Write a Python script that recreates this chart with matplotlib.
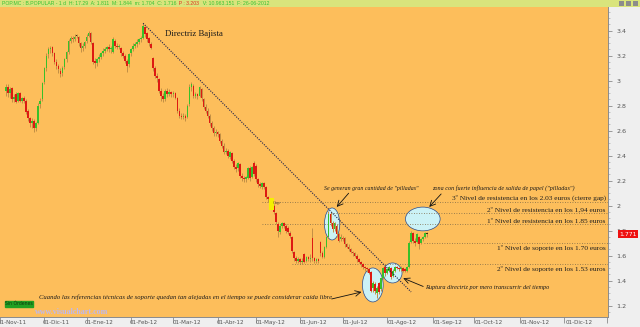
import numpy as np
import pandas as pd
import matplotlib
matplotlib.use("Agg")
from matplotlib import pyplot as plt
from matplotlib.patches import Ellipse, Rectangle
import matplotlib.transforms as mtransforms

# trading calendar (past holidays of the Madrid exchange only)
holidays = ["2011-12-26", "2012-04-06", "2012-04-09", "2012-05-01"]
first_candle = "2011-11-04"
meses = ["Ene", "Feb", "Mar", "Abr", "May", "Jun", "Jul", "Ago", "Sep", "Oct", "Nov", "Dic"]

# daily candles B.POPULAR
opens = [2.92, 2.95, 2.90, 2.94, 2.85, 2.89, 2.84, 2.90, 2.84, 2.86,
         2.84, 2.76, 2.70, 2.66, 2.68, 2.62, 2.66, 2.81, 2.85, 2.99,
         3.10, 3.21, 3.25, 3.27, 3.22, 3.15, 3.12, 3.08, 3.06, 3.11,
         3.17, 3.23, 3.32, 3.34, 3.33, 3.36, 3.35, 3.30, 3.26, 3.28,
         3.32, 3.36, 3.38, 3.30, 3.16, 3.14, 3.17, 3.19, 3.22, 3.24,
         3.25, 3.27, 3.25, 3.23, 3.32, 3.28, 3.27, 3.26, 3.22, 3.20,
         3.16, 3.13, 3.22, 3.25, 3.28, 3.29, 3.31, 3.33, 3.34, 3.43,
         3.38, 3.34, 3.29, 3.18, 3.10, 3.04, 3.01, 2.92, 2.88, 2.85,
         2.92, 2.89, 2.91, 2.89, 2.90, 2.86, 2.76, 2.72, 2.71, 2.72,
         2.71, 2.81, 2.95, 2.96, 2.88, 2.89, 2.88, 2.93, 2.85, 2.79,
         2.76, 2.72, 2.66, 2.62, 2.58, 2.59, 2.57, 2.52, 2.48, 2.43,
         2.44, 2.39, 2.42, 2.36, 2.31, 2.30, 2.33, 2.24, 2.22, 2.21,
         2.22, 2.30, 2.23, 2.34, 2.32, 2.21, 2.17, 2.15, 2.18, 2.15,
         2.07, 2.03, 2.01, 2.00, 1.94, 1.85, 1.79, 1.84, 1.86, 1.84,
         1.82, 1.78, 1.75, 1.63, 1.58, 1.56, 1.57, 1.55, 1.61, 1.56,
         1.59, 1.57, 1.74, 1.58, 1.56, 1.57, 1.71, 1.62, 1.59, 1.67,
         1.75, 1.93, 1.86, 1.81, 1.84, 1.77, 1.73, 1.74, 1.74, 1.69,
         1.67, 1.65, 1.63, 1.62, 1.60, 1.57, 1.55, 1.53, 1.51, 1.50,
         1.49, 1.47, 1.34, 1.37, 1.30, 1.38, 1.33, 1.42, 1.51, 1.46,
         1.48, 1.50, 1.44, 1.48, 1.51, 1.50, 1.49, 1.50, 1.49, 1.48,
         1.51, 1.71, 1.78, 1.72, 1.71, 1.75, 1.70, 1.73, 1.75, 1.77]
highs = [2.97, 2.97, 2.95, 2.95, 2.89, 2.91, 2.91, 2.91, 2.87, 2.88,
         2.85, 2.77, 2.71, 2.70, 2.69, 2.67, 2.82, 2.86, 2.99, 3.11,
         3.22, 3.27, 3.28, 3.28, 3.23, 3.17, 3.13, 3.10, 3.12, 3.18,
         3.24, 3.33, 3.36, 3.36, 3.37, 3.37, 3.36, 3.31, 3.30, 3.32,
         3.37, 3.40, 3.39, 3.31, 3.18, 3.18, 3.21, 3.23, 3.26, 3.27,
         3.28, 3.29, 3.28, 3.35, 3.33, 3.30, 3.29, 3.27, 3.24, 3.21,
         3.17, 3.22, 3.26, 3.30, 3.31, 3.33, 3.34, 3.36, 3.46, 3.44,
         3.39, 3.35, 3.31, 3.19, 3.12, 3.06, 3.02, 2.94, 2.90, 2.93,
         2.94, 2.93, 2.92, 2.92, 2.91, 2.87, 2.78, 2.74, 2.74, 2.73,
         2.81, 2.97, 2.99, 2.97, 2.91, 2.90, 2.96, 2.94, 2.86, 2.81,
         2.78, 2.73, 2.68, 2.64, 2.61, 2.60, 2.58, 2.53, 2.50, 2.46,
         2.45, 2.44, 2.43, 2.37, 2.33, 2.35, 2.34, 2.26, 2.24, 2.24,
         2.31, 2.32, 2.32, 2.36, 2.33, 2.22, 2.19, 2.19, 2.19, 2.16,
         2.08, 2.04, 2.03, 2.01, 1.95, 1.87, 1.85, 1.87, 1.87, 1.85,
         1.84, 1.80, 1.76, 1.64, 1.60, 1.59, 1.58, 1.58, 1.62, 1.60,
         1.60, 1.61, 1.82, 1.59, 1.58, 1.58, 1.72, 1.64, 1.68, 1.76,
         1.96, 1.95, 1.88, 1.87, 1.85, 1.78, 1.77, 1.76, 1.75, 1.70,
         1.69, 1.66, 1.64, 1.63, 1.61, 1.58, 1.56, 1.54, 1.52, 1.51,
         1.50, 1.48, 1.40, 1.39, 1.36, 1.39, 1.43, 1.51, 1.52, 1.50,
         1.52, 1.51, 1.49, 1.52, 1.52, 1.51, 1.52, 1.51, 1.50, 1.52,
         1.72, 1.80, 1.79, 1.74, 1.78, 1.76, 1.74, 1.76, 1.79, 1.79]
lows = [2.88, 2.87, 2.86, 2.83, 2.83, 2.82, 2.83, 2.83, 2.82, 2.82,
        2.73, 2.68, 2.63, 2.62, 2.59, 2.60, 2.65, 2.78, 2.84, 2.97,
        3.08, 3.18, 3.22, 3.20, 3.13, 3.09, 3.06, 3.03, 3.04, 3.09,
        3.15, 3.21, 3.30, 3.31, 3.32, 3.34, 3.28, 3.23, 3.24, 3.26,
        3.30, 3.35, 3.29, 3.13, 3.10, 3.12, 3.15, 3.17, 3.20, 3.22,
        3.24, 3.23, 3.22, 3.22, 3.26, 3.25, 3.25, 3.20, 3.18, 3.14,
        3.07, 3.11, 3.20, 3.24, 3.26, 3.27, 3.29, 3.31, 3.33, 3.35,
        3.31, 3.28, 3.25, 3.08, 3.02, 2.99, 2.90, 2.84, 2.83, 2.84,
        2.87, 2.88, 2.87, 2.87, 2.85, 2.74, 2.70, 2.69, 2.69, 2.68,
        2.70, 2.80, 2.92, 2.86, 2.86, 2.85, 2.87, 2.84, 2.77, 2.74,
        2.70, 2.64, 2.60, 2.56, 2.56, 2.55, 2.50, 2.46, 2.41, 2.41,
        2.38, 2.37, 2.34, 2.29, 2.27, 2.28, 2.22, 2.20, 2.19, 2.19,
        2.21, 2.20, 2.22, 2.24, 2.19, 2.15, 2.14, 2.13, 2.13, 2.05,
        2.03, 1.98, 1.98, 1.93, 1.85, 1.75, 1.77, 1.82, 1.82, 1.78,
        1.77, 1.74, 1.62, 1.56, 1.54, 1.54, 1.53, 1.53, 1.54, 1.55,
        1.56, 1.55, 1.56, 1.54, 1.54, 1.54, 1.60, 1.58, 1.58, 1.66,
        1.74, 1.84, 1.79, 1.80, 1.75, 1.71, 1.72, 1.72, 1.67, 1.66,
        1.64, 1.62, 1.60, 1.59, 1.55, 1.54, 1.51, 1.49, 1.48, 1.47,
        1.45, 1.31, 1.31, 1.29, 1.26, 1.29, 1.32, 1.41, 1.44, 1.45,
        1.47, 1.41, 1.43, 1.47, 1.49, 1.48, 1.48, 1.47, 1.47, 1.47,
        1.50, 1.70, 1.70, 1.68, 1.70, 1.65, 1.69, 1.72, 1.74, 1.75]
closes = [2.95, 2.90, 2.93, 2.85, 2.87, 2.83, 2.90, 2.84, 2.86, 2.84,
          2.75, 2.70, 2.66, 2.68, 2.62, 2.66, 2.80, 2.84, 2.98, 3.10,
          3.20, 3.25, 3.26, 3.22, 3.15, 3.12, 3.09, 3.05, 3.10, 3.17,
          3.23, 3.32, 3.34, 3.33, 3.35, 3.36, 3.30, 3.26, 3.28, 3.31,
          3.35, 3.38, 3.31, 3.15, 3.14, 3.17, 3.19, 3.22, 3.24, 3.25,
          3.27, 3.25, 3.26, 3.33, 3.28, 3.27, 3.28, 3.22, 3.20, 3.16,
          3.12, 3.21, 3.25, 3.28, 3.29, 3.31, 3.33, 3.34, 3.44, 3.37,
          3.33, 3.30, 3.26, 3.10, 3.04, 3.02, 2.92, 2.88, 2.85, 2.92,
          2.89, 2.91, 2.89, 2.90, 2.86, 2.76, 2.72, 2.71, 2.72, 2.70,
          2.80, 2.95, 2.97, 2.88, 2.89, 2.88, 2.95, 2.86, 2.79, 2.76,
          2.72, 2.66, 2.62, 2.58, 2.59, 2.57, 2.52, 2.48, 2.43, 2.44,
          2.40, 2.43, 2.36, 2.31, 2.29, 2.34, 2.24, 2.22, 2.21, 2.23,
          2.30, 2.22, 2.31, 2.25, 2.21, 2.17, 2.16, 2.18, 2.15, 2.07,
          2.05, 2.01, 2.00, 1.95, 1.87, 1.80, 1.84, 1.86, 1.84, 1.80,
          1.79, 1.76, 1.64, 1.58, 1.56, 1.57, 1.55, 1.56, 1.55, 1.59,
          1.57, 1.58, 1.58, 1.56, 1.57, 1.56, 1.62, 1.59, 1.67, 1.75,
          1.93, 1.86, 1.81, 1.86, 1.77, 1.72, 1.75, 1.73, 1.69, 1.67,
          1.65, 1.63, 1.62, 1.60, 1.57, 1.55, 1.53, 1.51, 1.50, 1.49,
          1.46, 1.32, 1.38, 1.32, 1.34, 1.31, 1.42, 1.50, 1.46, 1.49,
          1.51, 1.43, 1.48, 1.51, 1.50, 1.49, 1.50, 1.48, 1.48, 1.51,
          1.70, 1.78, 1.72, 1.70, 1.77, 1.69, 1.73, 1.75, 1.78, 1.771]

support_levels = [2.03, 1.94, 1.85, 1.70, 1.53]
level_texts = ["3º Nivel de resistencia en los 2.03 euros (cierre gap)",
               "2º Nivel de resistencia en los 1,94 euros",
               "1º Nivel de resistencia en los 1.85 euros",
               "1º Nivel de soporte en los 1.70 euros",
               "2º Nivel de soporte en los 1.53 euros"]
last_price = 1.771

# calendar -> trading-day index
days = pd.bdate_range("2011-11-01", "2013-02-28", freq="C", holidays=holidays)
x0 = days.searchsorted(pd.Timestamp(first_candle))
xs = np.arange(x0, x0 + len(closes))
o = np.array(opens); c = np.array(closes); h = np.array(highs); l = np.array(lows)

BG = "#fdbe5b"
fig = plt.figure(figsize=(6.4, 3.27), dpi=100)
fig.patch.set_facecolor("#efefef")

XL = (1.9, 301.7)
# bottom strip with date labels
axb = fig.add_axes([0, 0, 608 / 640, 10.3 / 327])
axb.set_facecolor("#efefef")
axb.set_xlim(XL); axb.set_ylim(0, 1)
axb.axis("off")

ax = fig.add_axes([0, 10.3 / 327, 608 / 640, (316.7 - 7) / 327])
ax.set_facecolor(BG)
ax.set_xlim(XL)
ax.set_ylim(1.112, 3.59)

# ellipses (behind the candles)
ell_kw = dict(facecolor="#cbf2f6", edgecolor="#2a4a8a", lw=0.5, zorder=1.5)
for cx, cy, w, hh in [(164.8, 1.854, 7.6, 0.256), (185.0, 1.366, 10.3, 0.272),
                      (194.8, 1.462, 9.4, 0.16), (209.8, 1.894, 17.2, 0.19)]:
    ax.add_patch(Ellipse((cx, cy), w, hh, **ell_kw))

# candles
up = c > o
flat = np.abs(c - o) < 0.006
cols = np.where(up, "#38c02a", "#dd1a12")
cols = np.where(flat, "#3a2a10", cols)
ax.vlines(xs, l, h, color="#c28f45", lw=0.7, zorder=2)
ax.bar(xs, np.maximum(np.abs(c - o), 0.008), bottom=np.minimum(o, c), width=0.8,
       color=cols, lw=0, zorder=3)

# trendline "directriz bajista"
ax.plot([71, 204], [3.46, 1.31], color="#1d1d4a", lw=0.8, ls=(0, (1, 1.2)), zorder=4)
ax.text(82, 3.375, "Directriz Bajista", family="Liberation Serif", fontsize=6.3,
        color="#1a1a1a", va="center", ha="left")

# support / resistance levels
starts = [130, 164, 130, 210.5, 145]
for lev, st in zip(support_levels, starts):
    ax.plot([st, XL[1]], [lev, lev], color="#7d6a48", lw=0.6, ls=(0, (1, 2)), zorder=2)
txt_kw = dict(family="Liberation Serif", fontsize=5.3, color="#1e1e1e", ha="right")
ax.text(300.6, 2.037, level_texts[0], va="bottom", **txt_kw)
ax.text(300.6, 1.947, level_texts[1], va="bottom", **txt_kw)
ax.text(300.6, 1.856, level_texts[2], va="bottom", **txt_kw)
ax.text(300.6, 1.688, level_texts[3], va="top", **txt_kw)
ax.text(300.6, 1.518, level_texts[4], va="top", **txt_kw)

# gap marker
ax.add_patch(Rectangle((133.6, 1.968), 2.4, 0.09, color="#f5f000", lw=0, zorder=5))
ax.text(135.3, 2.02, "Gap", fontsize=3.3, color="#5a4a20", va="center", ha="left",
        family="Liberation Serif", zorder=6)

# italic notes with arrows
it_kw = dict(family="Liberation Serif", style="italic", fontsize=4.4, color="#1a1a1a")
arr = dict(arrowstyle="->", lw=0.6, color="#111111", shrinkA=0, shrinkB=0)
ax.text(160.7, 2.139, "Se generan gran cantidad de \"pilladas\"", va="center",
        **dict(it_kw, fontsize=4.2))
ax.annotate("", xy=(167.1, 1.99), xytext=(173.0, 2.10), arrowprops=arr, zorder=6)
ax.text(214.4, 2.139, "zona con fuerte influencia de salida de papel (\"pilladas\")",
        va="center", **it_kw)
ax.annotate("", xy=(213.0, 1.99), xytext=(218.9, 2.094), arrowprops=arr, zorder=6)
ax.text(19.2, 1.27, "Cuando las referencias técnicas de soporte quedan tan alejadas en el "
        "tiempo se puede considerar caída libre", va="center", **dict(it_kw, fontsize=4.8))
ax.annotate("", xy=(179.4, 1.31), xytext=(164.6, 1.254), arrowprops=arr, zorder=6)
ax.text(211.0, 1.342, "Ruptura directriz por mero transcurrir del tiempo", va="center",
        **dict(it_kw, fontsize=4.5))
ax.annotate("", xy=(200.1, 1.42), xytext=(210.0, 1.354), arrowprops=arr, zorder=6)

# axes styling
for s in ["top", "left"]:
    ax.spines[s].set_visible(False)
for s in ["bottom", "right"]:
    ax.spines[s].set_color("#8a8a8a")
    ax.spines[s].set_linewidth(0.7)
ax.yaxis.tick_right()
yt = np.round(np.arange(1.2, 3.41, 0.2), 1)
ax.set_yticks(yt)
ax.set_yticklabels([f"{v:g}" for v in yt])
ax.set_yticks(np.arange(1.15, 3.6, 0.05), minor=True)
ax.tick_params(axis="y", which="major", length=3, width=0.5, color="#777777",
               labelsize=4.6, labelcolor="#555555", pad=3)
ax.tick_params(axis="y", which="minor", length=1.5, width=0.4, color="#999999")

# month ticks
month_starts = pd.date_range("2011-11-01", "2013-01-01", freq="MS")
mpos = [days.searchsorted(m) for m in month_starts]
mlab = [f"01-{meses[m.month - 1]}-{m.strftime('%y')}" for m in month_starts]
ax.set_xticks(mpos)
ax.set_xticklabels([])
ax.tick_params(axis="x", length=4, width=0.5, color="#777777", direction="out")
for p, lab in zip(mpos, mlab):
    axb.text(p + 0.8, 0.42, lab, fontsize=4.1, color="#555555", ha="left", va="center",
             clip_on=True)

# last price tag
trans = mtransforms.blended_transform_factory(fig.transFigure, ax.transData)
ax.text(628 / 640, last_price, f"{last_price:.3f}", transform=trans, fontsize=4.4,
        color="white", ha="center", va="center", zorder=10, clip_on=False,
        bbox=dict(boxstyle="square,pad=0.25", fc="#ee1010", ec="none"))

# header bar
axh = fig.add_axes([0, 1 - 7 / 327, 1, 7 / 327])
axh.set_facecolor("#d9e47c")
axh.set_xticks([]); axh.set_yticks([])
for s in axh.spines.values():
    s.set_visible(False)
hk = dict(fontsize=3.7, va="center", ha="left", family="Liberation Sans")
t1 = axh.text(2 / 640, 0.5, "POP.MC : B.POPULAR - 1 d  H: 17.29  A: 1.811  M: 1.844  m: 1.704  C: 1.716",
              color="#36c236", transform=axh.transAxes, **hk)
t2 = axh.annotate("  P : 3.203", xy=(1, 0.5), xycoords=t1, color="#e03020", **hk)
axh.annotate("  V: 10.963.151  F: 26-06-2012", xy=(1, 0.5), xycoords=t2,
             color="#36c236", **hk)
for k in range(3):
    axh.add_patch(Rectangle(((619 + 7 * k) / 640, 0.15), 5 / 640, 0.7, color="#8c8c8c",
                            transform=axh.transAxes, lw=0))

# bottom-left badge and watermark
fig.patches.append(Rectangle((5 / 640, 20 / 327), 28 / 640, 6.5 / 327, color="#22a022",
                             transform=fig.transFigure, figure=fig, zorder=5))
fig.text(19 / 640, 23.2 / 327, "Sin Órdenes", fontsize=3.3, color="#0c3a0c",
         ha="center", va="center", zorder=6)
fig.text(35 / 640, 15 / 327, "www.visualchart.com", fontsize=5.8, color="#bdb8f0",
         ha="left", va="center", fontweight="bold", family="Liberation Serif", zorder=6)

fig.savefig("out.png", dpi=100, facecolor=fig.get_facecolor())
